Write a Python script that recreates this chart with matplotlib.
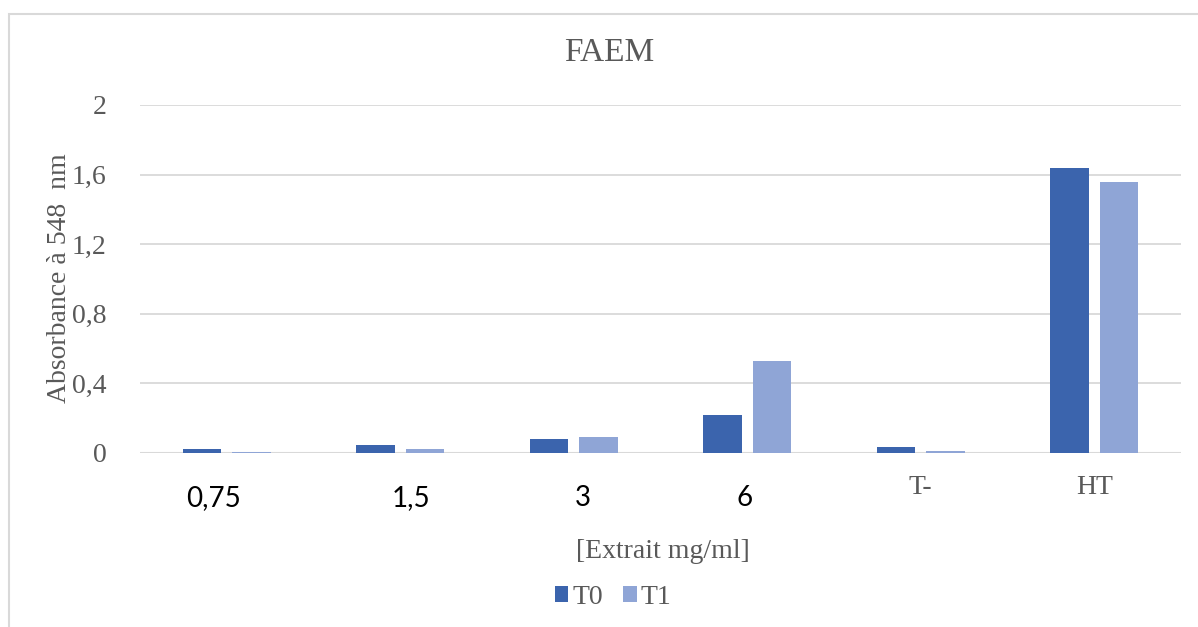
import numpy as np
import matplotlib
matplotlib.use("Agg")
import matplotlib.pyplot as plt
from matplotlib.patches import Rectangle
from matplotlib.transforms import blended_transform_factory

categories = ["0,75", "1,5", "3", "6", "T-", "HT"]
t0 = [0.021, 0.046, 0.079, 0.218, 0.036, 1.638]
t1 = [0.005, 0.025, 0.090, 0.529, 0.010, 1.557]
yticks = [0, 0.4, 0.8, 1.2, 1.6, 2]
ytick_labels = ["0", "0,4", "0,8", "1,2", "1,6", "2"]
# small horizontal shifts of the category labels (as in the original)
label_shift = [-0.075, 0.063, 0.05, -0.017, 0, 0]

col_t0 = "#3B64AD"
col_t1 = "#8FA5D6"
grey = "#595959"
grid = "#D9D9D9"
serif = "Liberation Serif"
sans = "Lato"

fig = plt.figure(figsize=(11.98, 6.27), dpi=100)
# outer chart border (top and left only visible)
fig.patches.append(Rectangle((9 / 1198, -0.1), 1.2, 1 - 14 / 627 + 0.1,
                             transform=fig.transFigure, fill=False,
                             edgecolor=grid, linewidth=1.5))

ax = fig.add_axes([140 / 1198, 1 - 453 / 627, (1181 - 140) / 1198, (453 - 105) / 627])
x = np.arange(len(categories))
w = 0.223
off = 0.142
ax.bar(x - off, t0, w, color=col_t0, label="T0", zorder=3)
ax.bar(x + off, t1, w, color=col_t1, label="T1", zorder=3)

ax.set_xlim(-0.5, len(categories) - 0.5)
ax.set_ylim(0, 2)
ax.set_yticks(yticks)
ax.set_yticklabels(ytick_labels, fontfamily=serif, fontsize=20, color=grey)
ax.tick_params(axis="y", length=0, pad=24)
ax.set_xticks([])
ax.grid(axis="y", color=grid, linewidth=1.3, zorder=0)
for s in ax.spines.values():
    s.set_visible(False)
ax.axhline(0, color=grid, linewidth=1.5, zorder=2)

trans = blended_transform_factory(ax.transData, fig.transFigure)
for i, lab in enumerate(categories):
    if lab in ("T-", "HT"):
        ax.text(i + label_shift[i], 1 - 487 / 627, lab, transform=trans, ha="center",
                va="center", fontfamily=serif, fontsize=20, color=grey)
    else:
        ax.text(i + label_shift[i], 1 - 498 / 627, lab, transform=trans, ha="center",
                va="center", fontfamily=sans, fontsize=20, color="black")

fig.text(609 / 1198, 1 - 53 / 627, "FAEM", ha="center", va="center",
         fontfamily=serif, fontsize=24, color=grey)
fig.text(663 / 1198, 1 - 551 / 627, "[Extrait mg/ml]", ha="center", va="center",
         fontfamily=serif, fontsize=20, color=grey)
fig.text(60 / 1198, 1 - 278 / 627, "Absorbance à 548  nm", ha="center", va="center",
         rotation=90, fontfamily=serif, fontsize=20, color=grey)

leg = fig.legend(loc="center", bbox_to_anchor=(613 / 1198, 1 - 597 / 627), ncol=2,
                 frameon=False, handlelength=0.5, handleheight=0.5, handletextpad=0.15,
                 columnspacing=0.7, prop={"family": serif, "size": 20})
for t in leg.get_texts():
    t.set_color(grey)

fig.savefig("out.png", dpi=100)
